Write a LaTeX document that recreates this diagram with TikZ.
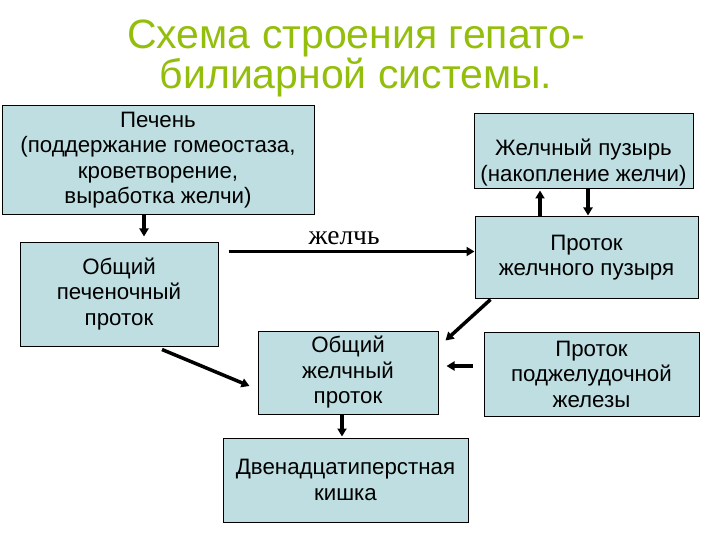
\documentclass[tikz,border=0pt]{standalone}
\usepackage{fontspec}
\setmainfont{Liberation Sans}
\newfontfamily\serifcyr{Liberation Serif}
\usepackage{xcolor}
\usetikzlibrary{arrows.meta}
\definecolor{boxfill}{RGB}{190,222,225}
\definecolor{titlegreen}{RGB}{148,190,12}

\begin{document}
\begin{tikzpicture}[x=1pt, y=-1pt,
  box/.style={rectangle, draw, line width=1pt, fill=boxfill,
              align=center, inner sep=2pt,
              font=\fontsize{22.3}{25.5}\selectfont},
  ttl/.style={text=titlegreen, align=center,
              font=\fontsize{41}{34}\selectfont},
  arr/.style={-{Triangle[length=8pt,width=9pt]}, line width=3.5pt}
]
\useasboundingbox (0,0) rectangle (720,540);

\node[ttl] (title) at (356,58) {Схема строения гепато-\\билиарной системы.};

\node[box, minimum width=312pt, minimum height=109pt] (liver) at (158,160) {
  Печень\\(поддержание гомеостаза,\\кроветворение,\\выработка желчи)};
\node[box, minimum width=198pt, minimum height=104pt] (hepatic) at (119,294) {
  Общий\\печеночный\\проток};
\node[box, minimum width=219pt, minimum height=75pt] (gallbladder) at (583.5,151.5) {
  \rule{0pt}{39pt}Желчный пузырь\\(накопление желчи)};
\node[box, minimum width=223pt, minimum height=81pt] (gbduct) at (586.5,257.5) {
  Проток\\желчного пузыря};
\node[box, minimum width=180pt, minimum height=83pt] (cbd) at (348,372.5) {
  Общий\\желчный\\проток};
\node[box, minimum width=215pt, minimum height=84pt] (pancreatic) at (591.5,374) {
  Проток\\поджелудочной\\железы};
\node[box, minimum width=245pt, minimum height=84pt] (duodenum) at (345.5,480) {
  Двенадцатиперстная\\кишка};

\draw[arr, shorten >=5pt] ([xshift=-14pt]liver.south) -- ([xshift=-14pt]liver.south |- hepatic.north);
\draw[arr] ([xshift=10pt,yshift=-10pt]hepatic.north east) -- ([yshift=-10pt]hepatic.north east -| gbduct.west)
  node[pos=0.47, above=2pt, font=\serifcyr\fontsize{27.5}{27.5}\selectfont] {желчь};
\draw[arr, shorten >=1pt] ([xshift=-46.5pt]gbduct.north) -- ([xshift=-46.5pt]gbduct.north |- gallbladder.south);
\draw[arr, shorten >=1pt] ([xshift=4.5pt]gallbladder.south) -- ([xshift=4.5pt]gallbladder.south |- gbduct.north);
\draw[arr] ([xshift=43pt,yshift=-3pt]hepatic.south) -- ([xshift=-8pt,yshift=-13.5pt]cbd.west);
\draw[arr] ([xshift=16pt,yshift=-1pt]gbduct.south west) -- ([xshift=7pt,yshift=-10pt]cbd.north east);
\draw[arr] ([xshift=-11pt,yshift=8pt]pancreatic.west) -- ([xshift=8pt,yshift=8pt]pancreatic.west -| cbd.east);
\draw[arr, shorten >=1pt] ([xshift=-6pt]cbd.south) -- ([xshift=-6pt]cbd.south |- duodenum.north);
\end{tikzpicture}
\end{document}
